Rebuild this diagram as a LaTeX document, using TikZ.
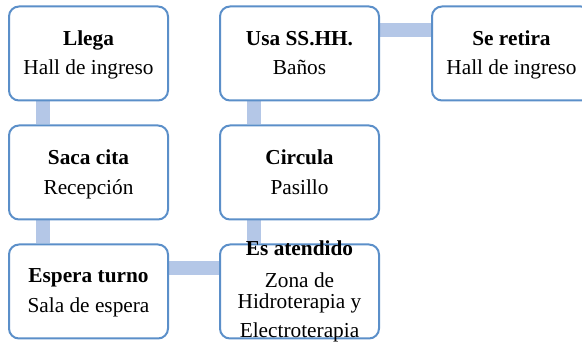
\documentclass[tikz,border=0pt]{standalone}
\usepackage{fontspec}
\setmainfont{Liberation Serif}
\usetikzlibrary{backgrounds}
\definecolor{boxline}{HTML}{5B8FC9}
\definecolor{conn}{HTML}{B4C7E7}
\begin{document}
\begin{tikzpicture}[x=1pt,y=-1pt,
  stepbox/.style={draw=boxline, line width=2pt, rounded corners=10pt, fill=white,
    minimum width=159pt, minimum height=94pt, inner sep=0pt},
  link/.style={draw=conn, line width=14pt},
  ttl/.style={anchor=base, font=\fontsize{21.3}{25}\selectfont\bfseries, inner sep=0pt},
  txt/.style={anchor=base, font=\fontsize{21.3}{25}\selectfont, inner sep=0pt}]
\useasboundingbox (0,0) rectangle (582,347);
\clip (0,0) rectangle (582,347);
% boxes
\node[stepbox] (b1) at (88.5,53.5) {};
\node[stepbox] (b2) at (88.5,172.5) {};
\node[stepbox] (b3) at (88.5,291.5) {};
\node[stepbox] (b4) at (299.5,291.5) {};
\node[stepbox] (b5) at (299.5,172.5) {};
\node[stepbox] (b6) at (299.5,53.5) {};
\node[stepbox] (b7) at (511.5,53.5) {};
% connectors
\begin{scope}[on background layer]
\draw[link] ([xshift=-45.5pt]b1.south) -- ([xshift=-45.5pt]b2.north);
\draw[link] ([xshift=-45.5pt]b2.south) -- ([xshift=-45.5pt]b3.north);
\draw[link] ([yshift=23.5pt]b3.east) -- ([yshift=23.5pt]b4.west);
\draw[link] ([xshift=-45.5pt]b5.south) -- ([xshift=-45.5pt]b4.north);
\draw[link] ([xshift=-45.5pt]b6.south) -- ([xshift=-45.5pt]b5.north);
\draw[link] ([yshift=23.5pt]b6.east) -- ([yshift=23.5pt]b7.west);
\end{scope}
% texts
\node[ttl] (t1) at (88.5,46) {Llega};
\node[txt] (s1) at (88.5,75) {Hall de ingreso};
\node[ttl] (t2) at (88.5,165) {Saca cita};
\node[txt] (s2) at (88.5,195) {Recepción};
\node[ttl] (t3) at (88.5,283) {Espera turno};
\node[txt] (s3) at (88.5,313) {Sala de espera};
\node[ttl] (t4) at (299.5,256) {Es atendido};
\node[txt] (s4a) at (299.5,288) {Zona de};
\node[txt] (s4b) at (299.5,309) {Hidroterapia y};
\node[txt] (s4c) at (299.5,338) {Electroterapia};
\node[ttl] (t5) at (299.5,165) {Circula};
\node[txt] (s5) at (299.5,195) {Pasillo};
\node[ttl] (t6) at (299.5,46) {Usa SS.HH.};
\node[txt] (s6) at (299.5,75) {Baños};
\node[ttl] (t7) at (511.5,46) {Se retira};
\node[txt] (s7) at (511.5,75) {Hall de ingreso};
\end{tikzpicture}
\end{document}
